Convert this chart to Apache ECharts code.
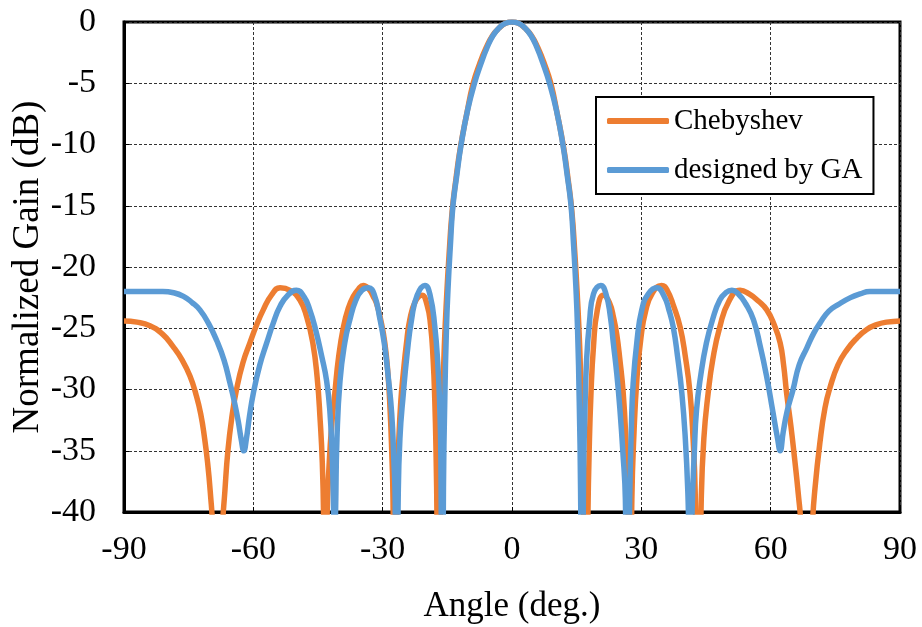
<!DOCTYPE html>
<html>
<head>
<meta charset="utf-8">
<script src="https://cdn.jsdelivr.net/npm/echarts@6/dist/echarts.min.js"></script>
<style>
  html, body { margin: 0; padding: 0; background: #fff; }
  #chart { width: 922px; height: 627px; }
</style>
</head>
<body>
<div id="chart"></div>
<script>
// Array factor in dB versus steering angle for the two excitation designs.
// Nulls are given a depth below the -40 dB floor so the grid clips them.
const chebAngles = [
  -90, -87, -84, -81, -78.6, -76.5, -74.7, -73.3, -72.2, -71.3, -70.6, -70.0, -69.4, -68.3,
  -67.2, -66.6, -65.9, -65.0, -63.9, -62.4, -60.8, -59.2, -57.7, -55.8, -53.8, -51.5, -49.2,
  -47.6, -46.2, -45.2, -44.5, -44.0, -43.7, -43.3, -42.9, -42.4, -41.8, -41.1, -40.2, -39.1,
  -38.0, -36.8, -35.6, -34.5, -33.2, -32.2, -31.4, -30.4, -29.5, -28.8, -28.3, -27.9, -27.6,
  -27.2, -26.7, -26.3, -25.8, -25.2, -24.5, -23.7, -22.4, -20.9, -19.7, -18.9, -18.3, -17.9,
  -17.6, -17.4, -17.0, -16.6, -16.2, -15.7, -15.1, -14.6, -13.9, -13.0, -12.0, -10.5, -9.0,
  -7.5, -6.0, -4.5, -3.0, -1.5, 0,
  1.5, 3.0, 4.5, 6.0, 7.5, 9.0, 10.5, 12.0, 13.0, 13.9, 14.6, 15.1, 15.7, 16.2, 16.6, 17.1,
  17.6, 17.9, 18.3, 18.9, 19.8, 21.2, 22.6, 23.6, 24.3, 25.0, 25.8, 26.4, 26.9, 27.3, 27.8,
  28.3, 29.0, 29.9, 31.0, 32.6, 34.7, 36.0, 37.5, 39.0, 40.2, 41.3, 42.0, 42.5, 43.2, 43.9,
  44.5, 45.5, 46.6, 48.2, 50.3, 52.9, 55.0, 57.2, 59.1, 60.8, 62.2, 63.0, 63.7, 64.7, 65.6,
  66.4, 67.0, 68.4, 69.7, 70.3, 71.4, 72.6, 73.8, 75.6, 77.6, 80.0, 82.3, 84.6, 86.9, 90
];
const chebGain = [
  -24.4, -24.5, -24.8, -25.5, -26.5, -27.6, -28.9, -30.4, -32.0, -34.0, -36.0, -38.3, -41.5, -55,
  -41.5, -38.3, -35.0, -32.3, -30.0, -27.8, -26.2, -24.7, -23.5, -22.3, -21.7, -21.9, -22.7,
  -24.1, -26.2, -29.0, -32.5, -36.0, -40.5, -55, -40.5, -36.0, -32.8, -30.3, -27.3, -24.9,
  -23.4, -22.4, -21.8, -21.5, -21.8, -22.4, -23.0, -24.4, -26.2, -28.6, -31.5, -35.0, -39.0,
  -55, -39.0, -34.5, -31.0, -28.6, -26.3, -24.3, -22.8, -22.3, -23.1, -24.7, -27.5, -31.0,
  -35.5, -40.5, -55, -40.0, -32.5, -26.5, -22.0, -19.0, -15.5, -12.8, -10.3, -7.5, -5.0,
  -3.4, -2.1, -1.1, -0.5, -0.1, 0,
  -0.1, -0.5, -1.1, -2.1, -3.4, -5.0, -7.5, -10.3, -12.8, -15.5, -19.0, -22.0, -26.5, -32.5, -40.0, -55,
  -40.5, -35.0, -30.5, -26.5, -23.5, -22.3, -22.9, -24.2, -25.5, -27.5, -30.3, -34.0, -39.0, -55, -39.0,
  -33.5, -29.0, -25.8, -23.6, -22.1, -21.5, -21.9, -23.2, -24.9, -27.3, -30.3, -34.0, -38.5, -55, -39.0,
  -34.0, -30.3, -27.5, -24.9, -22.8, -21.9, -22.2, -22.8, -23.5, -24.7, -26.2, -28.0, -30.3, -33.0, -35.8,
  -38.5, -41.0, -55, -41.0, -38.0, -34.4, -31.5, -29.8, -28.0, -26.8, -25.8, -25.1, -24.7, -24.5, -24.4
];

const gaAngles = [
  -90, -85, -81, -78.5, -76.2, -74.2, -72.4, -70.4, -68.5, -66.8, -65.4, -64.4, -63.5, -62.8,
  -62.2, -61.6, -60.9, -60.0, -58.5, -56.9, -55.3, -53.8, -52.0, -50.0, -48.3, -46.9, -45.5,
  -44.2, -43.0, -42.2, -41.7, -41.4, -41.2, -40.9, -40.6, -39.9, -38.8, -37.6, -36.2, -34.8,
  -33.3, -32.0, -30.6, -29.6, -28.7, -27.9, -27.4, -27.1, -26.8, -26.4, -26.0, -25.2, -24.3,
  -23.3, -22.0, -20.2, -19.0, -17.9, -17.2, -16.8, -16.5, -16.2, -15.9, -15.6, -15.2, -14.8,
  -14.3, -13.7, -12.8, -11.8, -10.3, -8.7, -7.2, -5.8, -4.4, -2.9, -1.5, 0,
  1.5, 2.9, 4.4, 5.8, 7.2, 8.7, 10.3, 11.8, 12.8, 13.7, 14.3, 14.8, 15.2, 15.6, 15.9, 16.3,
  16.6, 16.9, 17.3, 18.0, 18.9, 20.6, 21.8, 22.8, 23.5, 24.3, 25.05, 25.7, 26.3, 26.8, 27.3,
  27.7, 28.1, 29.0, 30.1, 31.6, 33.6, 35.3, 36.4, 37.4, 38.4, 39.4, 40.2, 40.8, 41.3, 41.9,
  42.3, 42.8, 43.8, 45.1, 46.6, 48.2, 49.6, 51.0, 52.5, 54.2, 56.0, 57.6, 59.1, 60.5, 61.6,
  62.2, 62.9, 63.8, 65.2, 66.6, 68.4, 70.0, 71.4, 73.5, 76.0, 78.5, 80.7, 83.0, 86.0, 90
];
const gaGain = [
  -22.0, -22.0, -22.0, -22.1, -22.4, -22.9, -23.5, -24.6, -26.0, -27.6, -29.5, -31.0, -32.6, -34.1,
  -35.0, -34.0, -32.2, -30.3, -28.0, -26.2, -24.5, -23.2, -22.3, -21.9, -22.4, -23.5, -25.2,
  -27.2, -29.3, -32.0, -35.5, -39.5, -45, -39.5, -34.0, -29.3, -26.2, -24.3, -22.7, -21.9,
  -21.7, -22.2, -24.3, -26.3, -29.0, -32.0, -35.8, -39.0, -55, -39.0, -34.0, -30.3, -27.0,
  -24.3, -22.3, -21.5, -22.3, -24.9, -28.0, -31.0, -35.5, -55, -38.0, -31.0, -25.0, -21.5,
  -18.3, -15.0, -12.5, -10.0, -7.2, -5.0, -3.4, -2.1, -1.1, -0.45, -0.1, 0,
  -0.1, -0.45, -1.1, -2.1, -3.4, -5.0, -7.2, -10.0, -12.5, -15.0, -18.3, -21.5, -25.0, -31.0, -38.0, -55,
  -37.0, -32.0, -27.6, -24.4, -22.2, -21.5, -22.2, -24.0, -26.2, -28.7, -31.7, -35.0, -39.0, -55, -39.0,
  -33.0, -29.5, -26.0, -23.5, -22.2, -21.7, -22.4, -23.5, -24.9, -27.3, -30.3, -34.0, -38.5, -45, -38.5,
  -35.0, -31.7, -28.8, -26.2, -24.2, -22.7, -22.1, -21.9, -22.2, -23.0, -24.3, -26.5, -29.0, -31.8, -34.0,
  -35.0, -33.5, -31.8, -30.0, -28.0, -26.6, -25.4, -24.6, -23.6, -23.0, -22.5, -22.2, -22.0, -22.0, -22.0
];

const seriesNames = ['Chebyshev', 'designed by GA'];
const xTicks = [-90, -60, -30, 0, 30, 60, 90];
const yTicks = [0, -5, -10, -15, -20, -25, -30, -35, -40];

const pairs = (xs, ys) => xs.map((x, i) => [x, ys[i]]);
const FONT = '"Liberation Serif", "Times New Roman", serif';

const chart = echarts.init(document.getElementById('chart'), null, { renderer: 'canvas' });
chart.setOption({
  animation: false,
  backgroundColor: '#fff',
  grid: {
    left: 124, right: 22, top: 22, bottom: 115,
    outerBoundsMode: 'none', containLabel: false,
    show: true, borderColor: '#000', borderWidth: 3, backgroundColor: 'transparent'
  },
  xAxis: {
    type: 'value',
    min: xTicks[0], max: xTicks[xTicks.length - 1], interval: 30,
    name: 'Angle (deg.)', nameLocation: 'middle', nameGap: 77,
    nameTextStyle: { fontFamily: FONT, fontSize: 35, color: '#000' },
    axisLine: { show: true, onZero: false, lineStyle: { color: '#000', width: 3 } },
    axisTick: { show: true, inside: true, length: 5, lineStyle: { color: '#000', width: 1 } },
    axisLabel: { fontFamily: FONT, fontSize: 34, color: '#000', margin: 21 },
    splitLine: { show: true, lineStyle: { color: '#333', width: 1, type: [3, 2] } }
  },
  yAxis: {
    type: 'value',
    min: yTicks[yTicks.length - 1], max: yTicks[0], interval: 5,
    name: 'Normalized Gain (dB)', nameLocation: 'middle', nameGap: 77,
    nameMoveOverlap: false,
    nameTextStyle: { fontFamily: FONT, fontSize: 37, color: '#000' },
    axisLine: { show: true, onZero: false, lineStyle: { color: '#000', width: 3 } },
    axisTick: { show: true, inside: true, length: 5, lineStyle: { color: '#000', width: 1 } },
    axisLabel: { fontFamily: FONT, fontSize: 34, color: '#000', margin: 28 },
    splitLine: { show: true, lineStyle: { color: '#333', width: 1, type: [3, 2] } }
  },
  legend: {
    orient: 'vertical',
    left: 596, top: 97,
    padding: [9, 11, 9, 11],
    itemGap: 19,
    itemWidth: 62, itemHeight: 6,
    icon: 'roundRect',
    borderColor: '#000', borderWidth: 2,
    backgroundColor: '#fff',
    textStyle: { fontFamily: FONT, fontSize: 29, color: '#000', lineHeight: 30 },
    data: seriesNames
  },
  series: [
    {
      name: seriesNames[0], type: 'line',
      data: pairs(chebAngles, chebGain),
      symbol: 'none', smooth: 0.5, clip: true,
      lineStyle: { color: '#ED7D31', width: 5.5 }, itemStyle: { color: '#ED7D31' },
      z: 2
    },
    {
      name: seriesNames[1], type: 'line',
      data: pairs(gaAngles, gaGain),
      symbol: 'none', smooth: 0.5, clip: true,
      lineStyle: { color: '#5B9BD5', width: 5.5 }, itemStyle: { color: '#5B9BD5' },
      z: 3
    }
  ]
});
</script>
</body>
</html>
